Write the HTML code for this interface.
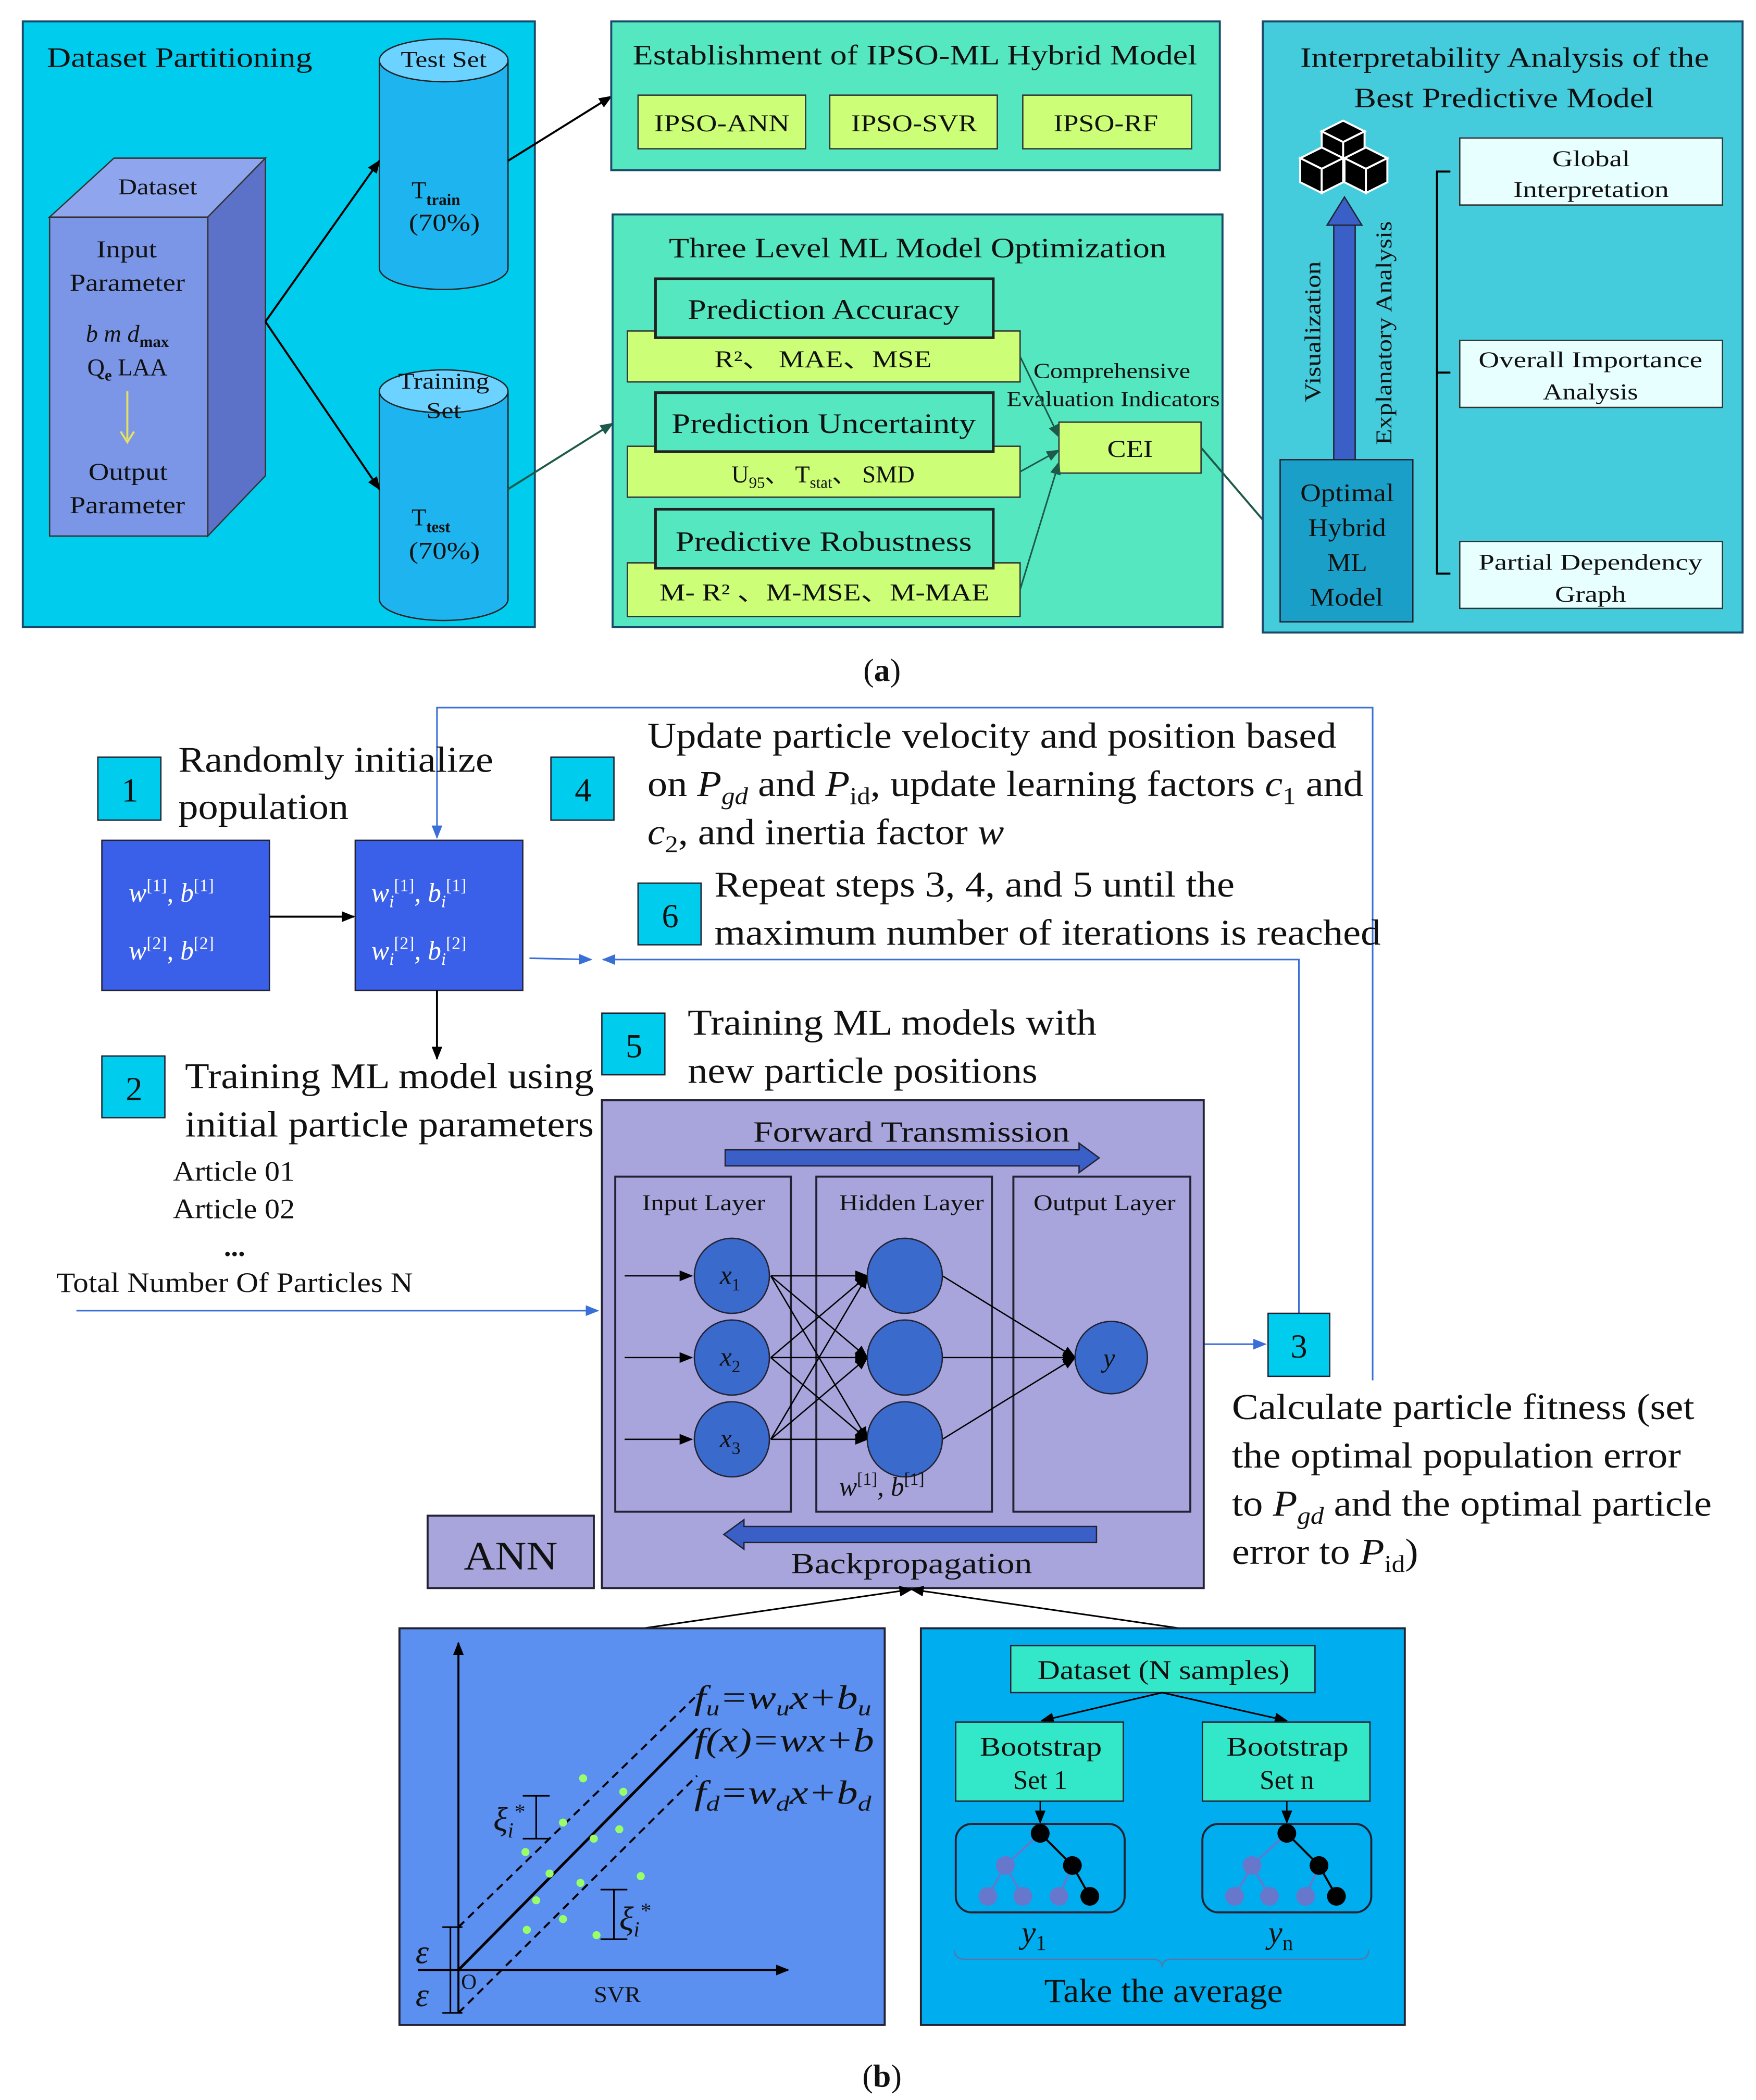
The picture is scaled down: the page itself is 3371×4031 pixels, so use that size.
<!DOCTYPE html>
<html><head><meta charset="utf-8"><style>
html,body{margin:0;padding:0;background:#fff;}
svg{display:block;}
text{font-family:"Liberation Serif","DejaVu Serif",serif;fill:#111;}
</style></head><body>
<svg width="3371" height="4031" viewBox="0 0 1310 1567" preserveAspectRatio="none" xmlns="http://www.w3.org/2000/svg">
<defs>
<marker id="ar" markerWidth="10" markerHeight="10" refX="9" refY="5" orient="auto" markerUnits="userSpaceOnUse"><path d="M0,1 L10,5 L0,9 z" fill="#000"/></marker>
<marker id="arg" markerWidth="10" markerHeight="10" refX="9" refY="5" orient="auto" markerUnits="userSpaceOnUse"><path d="M0,1 L10,5 L0,9 z" fill="#1E5A4A"/></marker>
<marker id="arb" markerWidth="10" markerHeight="10" refX="9" refY="5" orient="auto" markerUnits="userSpaceOnUse"><path d="M0,1 L10,5 L0,9 z" fill="#3A6FD8"/></marker>
</defs>
<rect width="1310" height="1567" fill="#fff"/>

<!-- Panel a box 1 -->
<rect x="17" y="16" width="382" height="452" fill="#00CCEE" stroke="#1a4a6a" stroke-width="1.5"/>
<text x="35" y="50" font-size="21" textLength="198" lengthAdjust="spacingAndGlyphs">Dataset Partitioning</text>
<polygon points="37,162 85,118 198,118 155,162" fill="#8FA6EE" stroke="#333"/>
<polygon points="155,162 198,118 198,355 155,400" fill="#5C72C8" stroke="#333"/>
<rect x="37" y="162" width="118" height="238" fill="#7B96E6" stroke="#333"/>
<text x="88" y="145" font-size="17" textLength="59" lengthAdjust="spacingAndGlyphs">Dataset</text>
<text x="72" y="192" font-size="18" textLength="45" lengthAdjust="spacingAndGlyphs">Input</text>
<text x="52" y="217" font-size="18" textLength="86" lengthAdjust="spacingAndGlyphs">Parameter</text>
<text x="95" y="255" font-size="18" text-anchor="middle" font-style="italic">b m d<tspan font-size="12" dy="4" font-style="normal" font-weight="bold">max</tspan></text>
<text x="95" y="280" font-size="18" text-anchor="middle">Q<tspan font-size="12" dy="4" font-weight="bold">e</tspan><tspan dy="-4"> LAA</tspan></text>
<line x1="95" y1="292" x2="95" y2="328" stroke="#E8E060" stroke-width="1.5"/>
<path d="M90,322 L95,330 L100,322" fill="none" stroke="#E8E060" stroke-width="1.5"/>
<text x="66" y="358" font-size="18" textLength="59" lengthAdjust="spacingAndGlyphs">Output</text>
<text x="52" y="383" font-size="18" textLength="86" lengthAdjust="spacingAndGlyphs">Parameter</text>
<!-- cylinders -->
<path d="M283,45 L283,200 A48,16 0 0 0 379,200 L379,45" fill="#1EB4F0" stroke="#222"/>
<ellipse cx="331" cy="45" rx="48" ry="16" fill="#6CD2FF" stroke="#222"/>
<text x="299" y="50" font-size="17" textLength="64" lengthAdjust="spacingAndGlyphs">Test Set</text>
<text x="307" y="148" font-size="18">T<tspan font-size="12" dy="5" font-weight="bold">train</tspan></text>
<text x="305" y="172" font-size="18" textLength="53" lengthAdjust="spacingAndGlyphs">(70%)</text>
<path d="M283,292 L283,447 A48,16 0 0 0 379,447 L379,292" fill="#1EB4F0" stroke="#222"/>
<ellipse cx="331" cy="292" rx="48" ry="16" fill="#6CD2FF" stroke="#222"/>
<text x="297" y="290" font-size="17" textLength="68" lengthAdjust="spacingAndGlyphs">Training</text>
<text x="318" y="312" font-size="17" textLength="26" lengthAdjust="spacingAndGlyphs">Set</text>
<text x="307" y="392" font-size="18">T<tspan font-size="12" dy="5" font-weight="bold">test</tspan></text>
<text x="305" y="417" font-size="18" textLength="53" lengthAdjust="spacingAndGlyphs">(70%)</text>
<line x1="198" y1="240" x2="283" y2="120" stroke="#000" stroke-width="1.5" marker-end="url(#ar)"/>
<line x1="198" y1="240" x2="283" y2="365" stroke="#000" stroke-width="1.5" marker-end="url(#ar)"/>
<line x1="379" y1="120" x2="456" y2="72" stroke="#000" stroke-width="1.5" marker-end="url(#ar)"/>
<line x1="379" y1="365" x2="457" y2="316" stroke="#1E5A4A" stroke-width="1.5" marker-end="url(#arg)"/>

<!-- box 2 -->
<rect x="456" y="16" width="454" height="111" fill="#55E8C0" stroke="#1a4a6a" stroke-width="1.5"/>
<text x="472" y="48" font-size="21" textLength="421" lengthAdjust="spacingAndGlyphs">Establishment of IPSO-ML Hybrid Model</text>
<rect x="476" y="71" width="125" height="40" fill="#CCFF77" stroke="#333"/>
<rect x="619" y="71" width="125" height="40" fill="#CCFF77" stroke="#333"/>
<rect x="763" y="71" width="126" height="40" fill="#CCFF77" stroke="#333"/>
<text x="488" y="98" font-size="18" textLength="101" lengthAdjust="spacingAndGlyphs">IPSO-ANN</text>
<text x="635" y="98" font-size="18" textLength="94" lengthAdjust="spacingAndGlyphs">IPSO-SVR</text>
<text x="786" y="98" font-size="18" textLength="78" lengthAdjust="spacingAndGlyphs">IPSO-RF</text>

<!-- box 3 -->
<rect x="457" y="160" width="455" height="308" fill="#55E8C0" stroke="#1a4a6a" stroke-width="1.5"/>
<text x="499" y="192" font-size="21" textLength="371" lengthAdjust="spacingAndGlyphs">Three Level ML Model Optimization</text>
<rect x="468" y="247" width="293" height="38" fill="#CCFF77" stroke="#333"/>
<rect x="489" y="208" width="252" height="44" fill="#55E8C0" stroke="#222" stroke-width="2"/>
<text x="513" y="238" font-size="21" textLength="203" lengthAdjust="spacingAndGlyphs">Prediction Accuracy</text>
<text x="533" y="274" font-size="18" textLength="162" lengthAdjust="spacingAndGlyphs">R²、 MAE、MSE</text>
<rect x="468" y="333" width="293" height="38" fill="#CCFF77" stroke="#333"/>
<rect x="489" y="293" width="252" height="44" fill="#55E8C0" stroke="#222" stroke-width="2"/>
<text x="501" y="323" font-size="21" textLength="227" lengthAdjust="spacingAndGlyphs">Prediction Uncertainty</text>
<text x="614" y="360" font-size="18" text-anchor="middle">U<tspan font-size="12" dy="4">95</tspan><tspan dy="-4">、 T</tspan><tspan font-size="12" dy="4">stat</tspan><tspan dy="-4">、 SMD</tspan></text>
<rect x="468" y="420" width="293" height="40" fill="#CCFF77" stroke="#333"/>
<rect x="489" y="380" width="252" height="44" fill="#55E8C0" stroke="#222" stroke-width="2"/>
<text x="504" y="411" font-size="21" textLength="221" lengthAdjust="spacingAndGlyphs">Predictive Robustness</text>
<text x="492" y="448" font-size="18" textLength="246" lengthAdjust="spacingAndGlyphs">M- R² 、M-MSE、M-MAE</text>
<rect x="790" y="315" width="106" height="38" fill="#CCFF77" stroke="#333"/>
<text x="826" y="341" font-size="18" textLength="34" lengthAdjust="spacingAndGlyphs">CEI</text>
<text x="771" y="282" font-size="16" textLength="117" lengthAdjust="spacingAndGlyphs">Comprehensive</text>
<text x="751" y="303" font-size="16" textLength="159" lengthAdjust="spacingAndGlyphs">Evaluation Indicators</text>
<line x1="761" y1="266" x2="790" y2="326" stroke="#1E5A4A" stroke-width="1.2" marker-end="url(#arg)"/>
<line x1="761" y1="352" x2="790" y2="336" stroke="#1E5A4A" stroke-width="1.2" marker-end="url(#arg)"/>
<line x1="761" y1="440" x2="790" y2="345" stroke="#1E5A4A" stroke-width="1.2" marker-end="url(#arg)"/>
<line x1="896" y1="334" x2="955" y2="403" stroke="#1E5A4A" stroke-width="1.5" marker-end="url(#arg)"/>

<!-- box 4 -->
<rect x="942" y="16" width="358" height="456" fill="#44CCDD" stroke="#1a4a6a" stroke-width="1.5"/>
<text x="970" y="50" font-size="21" textLength="305" lengthAdjust="spacingAndGlyphs">Interpretability Analysis of the</text>
<text x="1010" y="80" font-size="21" textLength="224" lengthAdjust="spacingAndGlyphs">Best Predictive Model</text>
<!-- cubes -->
<g stroke="#fff" stroke-width="1.5" fill="#000">
<polygon points="986,98 1002,90 1018,98 1002,106"/><polygon points="986,98 1002,106 1002,124 986,116"/><polygon points="1002,106 1018,98 1018,116 1002,124"/>
<polygon points="970,118 986,110 1002,118 986,126"/><polygon points="970,118 986,126 986,144 970,136"/><polygon points="986,126 1002,118 1002,136 986,144"/>
<polygon points="1003,118 1019,110 1035,118 1019,126"/><polygon points="1003,118 1019,126 1019,144 1003,136"/><polygon points="1019,126 1035,118 1035,136 1019,144"/>
</g>
<rect x="995" y="168" width="16" height="176" fill="#3A60C8" stroke="#223"/>
<polygon points="990,168 1003,147 1016,168" fill="#3A60C8" stroke="#223"/>
<text transform="translate(985,300) rotate(-90)" font-size="17" textLength="105" lengthAdjust="spacingAndGlyphs">Visualization</text>
<text transform="translate(1038,332) rotate(-90)" font-size="17" textLength="167" lengthAdjust="spacingAndGlyphs">Explanatory Analysis</text>
<rect x="955" y="343" width="99" height="121" fill="#1AA0C8" stroke="#223"/>
<text x="970" y="374" font-size="19" textLength="70" lengthAdjust="spacingAndGlyphs">Optimal</text>
<text x="976" y="400" font-size="19" textLength="58" lengthAdjust="spacingAndGlyphs">Hybrid</text>
<text x="990" y="426" font-size="19" textLength="30" lengthAdjust="spacingAndGlyphs">ML</text>
<text x="977" y="452" font-size="19" textLength="55" lengthAdjust="spacingAndGlyphs">Model</text>
<path d="M1082,128 L1072,128 L1072,428 L1082,428 M1072,278 L1082,278" fill="none" stroke="#000" stroke-width="1.5"/>
<rect x="1089" y="103" width="196" height="50" fill="#E8FFFF" stroke="#333"/>
<rect x="1089" y="254" width="196" height="50" fill="#E8FFFF" stroke="#333"/>
<rect x="1089" y="404" width="196" height="50" fill="#E8FFFF" stroke="#333"/>
<text x="1158" y="124" font-size="17" textLength="58" lengthAdjust="spacingAndGlyphs">Global</text>
<text x="1129" y="147" font-size="17" textLength="116" lengthAdjust="spacingAndGlyphs">Interpretation</text>
<text x="1103" y="274" font-size="17" textLength="167" lengthAdjust="spacingAndGlyphs">Overall Importance</text>
<text x="1151" y="298" font-size="17" textLength="71" lengthAdjust="spacingAndGlyphs">Analysis</text>
<text x="1103" y="425" font-size="17" textLength="167" lengthAdjust="spacingAndGlyphs">Partial Dependency</text>
<text x="1160" y="449" font-size="17" textLength="53" lengthAdjust="spacingAndGlyphs">Graph</text>

<text x="658" y="508" font-size="24" text-anchor="middle">(<tspan font-weight="bold">a</tspan>)</text>

<!-- Panel b -->
<polyline points="1024,1030 1024,528 326,528 326,625" fill="none" stroke="#3A6FD8" stroke-width="1.2" marker-end="url(#arb)"/>
<polyline points="969,980 969,716 450,716" fill="none" stroke="#3A6FD8" stroke-width="1.2" marker-end="url(#arb)"/>
<line x1="395" y1="715" x2="441" y2="716" stroke="#3A6FD8" stroke-width="1.2" marker-end="url(#arb)"/>
<line x1="57" y1="978" x2="446" y2="978" stroke="#3A6FD8" stroke-width="1.2" marker-end="url(#arb)"/>
<line x1="898" y1="1003" x2="944" y2="1003" stroke="#3A6FD8" stroke-width="1.2" marker-end="url(#arb)"/>

<g font-size="25">
<rect x="73" y="565" width="47" height="47" fill="#00CCEE" stroke="#223"/><text x="97" y="598" text-anchor="middle">1</text>
<rect x="411" y="565" width="47" height="47" fill="#00CCEE" stroke="#223"/><text x="435" y="598" text-anchor="middle">4</text>
<rect x="476" y="659" width="47" height="46" fill="#00CCEE" stroke="#223"/><text x="500" y="692" text-anchor="middle">6</text>
<rect x="449" y="756" width="47" height="46" fill="#00CCEE" stroke="#223"/><text x="473" y="789" text-anchor="middle">5</text>
<rect x="76" y="788" width="47" height="46" fill="#00CCEE" stroke="#223"/><text x="100" y="821" text-anchor="middle">2</text>
<rect x="946" y="980" width="46" height="47" fill="#00CCEE" stroke="#223"/><text x="969" y="1013" text-anchor="middle">3</text>
</g>
<g font-size="27">
<text x="133" y="576" textLength="235" lengthAdjust="spacingAndGlyphs">Randomly initialize</text>
<text x="133" y="611" textLength="127" lengthAdjust="spacingAndGlyphs">population</text>
<text x="483" y="558" textLength="514" lengthAdjust="spacingAndGlyphs">Update particle velocity and position based</text>
<text x="483" y="594" textLength="534" lengthAdjust="spacingAndGlyphs">on <tspan font-style="italic">P</tspan><tspan font-size="18" dy="6" font-style="italic">gd</tspan><tspan dy="-6"> and </tspan><tspan font-style="italic">P</tspan><tspan font-size="18" dy="6">id</tspan><tspan dy="-6">, update learning factors </tspan><tspan font-style="italic">c</tspan><tspan font-size="18" dy="6">1</tspan><tspan dy="-6"> and</tspan></text>
<text x="483" y="630" textLength="266" lengthAdjust="spacingAndGlyphs"><tspan font-style="italic">c</tspan><tspan font-size="18" dy="6">2</tspan><tspan dy="-6">, and inertia factor </tspan><tspan font-style="italic">w</tspan></text>
<text x="533" y="669" textLength="388" lengthAdjust="spacingAndGlyphs">Repeat steps 3, 4, and 5 until the</text>
<text x="533" y="705" textLength="497" lengthAdjust="spacingAndGlyphs">maximum number of iterations is reached</text>
<text x="513" y="772" textLength="305" lengthAdjust="spacingAndGlyphs">Training ML models with</text>
<text x="513" y="808" textLength="261" lengthAdjust="spacingAndGlyphs">new particle positions</text>
<text x="138" y="812" textLength="305" lengthAdjust="spacingAndGlyphs">Training ML model using</text>
<text x="138" y="848" textLength="305" lengthAdjust="spacingAndGlyphs">initial particle parameters</text>
<text x="919" y="1059" textLength="345" lengthAdjust="spacingAndGlyphs">Calculate particle fitness (set</text>
<text x="919" y="1095" textLength="335" lengthAdjust="spacingAndGlyphs">the optimal population error</text>
<text x="919" y="1131" textLength="358" lengthAdjust="spacingAndGlyphs">to <tspan font-style="italic">P</tspan><tspan font-size="18" dy="6" font-style="italic">gd</tspan><tspan dy="-6"> and the optimal particle</tspan></text>
<text x="919" y="1167" textLength="139" lengthAdjust="spacingAndGlyphs">error to <tspan font-style="italic">P</tspan><tspan font-size="18" dy="6">id</tspan><tspan dy="-6">)</tspan></text>
</g>
<g font-size="21">
<text x="129" y="881" textLength="91" lengthAdjust="spacingAndGlyphs">Article 01</text>
<text x="129" y="909" textLength="91" lengthAdjust="spacingAndGlyphs">Article 02</text>
<text x="175" y="937" font-weight="bold" text-anchor="middle">...</text>
<text x="42" y="964" textLength="266" lengthAdjust="spacingAndGlyphs">Total Number Of Particles N</text>
</g>

<rect x="76" y="627" width="125" height="112" fill="#3A5FE8" stroke="#223"/>
<rect x="265" y="627" width="125" height="112" fill="#3A5FE8" stroke="#223"/>
<g font-size="20" font-style="italic">
<text x="96" y="673" style="fill:#fff">w<tspan font-size="13" dy="-8" font-style="normal">[1]</tspan><tspan dy="8">,   b</tspan><tspan font-size="13" dy="-8" font-style="normal">[1]</tspan></text>
<text x="96" y="716" style="fill:#fff">w<tspan font-size="13" dy="-8" font-style="normal">[2]</tspan><tspan dy="8">,   b</tspan><tspan font-size="13" dy="-8" font-style="normal">[2]</tspan></text>
<text x="277" y="673" style="fill:#fff">w<tspan font-size="13" dy="4">i</tspan><tspan font-size="13" dy="-12" font-style="normal">[1]</tspan><tspan dy="8">,   b</tspan><tspan font-size="13" dy="4">i</tspan><tspan font-size="13" dy="-12" font-style="normal">[1]</tspan></text>
<text x="277" y="716" style="fill:#fff">w<tspan font-size="13" dy="4">i</tspan><tspan font-size="13" dy="-12" font-style="normal">[2]</tspan><tspan dy="8">,   b</tspan><tspan font-size="13" dy="4">i</tspan><tspan font-size="13" dy="-12" font-style="normal">[2]</tspan></text>
</g>
<line x1="201" y1="684" x2="264" y2="684" stroke="#000" stroke-width="1.5" marker-end="url(#ar)"/>
<line x1="326" y1="739" x2="326" y2="790" stroke="#000" stroke-width="1.5" marker-end="url(#ar)"/>

<!-- ANN -->
<rect x="449" y="821" width="449" height="364" fill="#A8A4DC" stroke="#223" stroke-width="1.5"/>
<text x="562" y="852" font-size="22" textLength="236" lengthAdjust="spacingAndGlyphs">Forward Transmission</text>
<polygon points="541,858 805,858 805,853 820,864 805,875 805,870 541,870" fill="#3A60C8" stroke="#223"/>
<rect x="459" y="878" width="131" height="250" fill="#A8A4DC" stroke="#223" stroke-width="1.5"/>
<rect x="609" y="878" width="131" height="250" fill="#A8A4DC" stroke="#223" stroke-width="1.5"/>
<rect x="756" y="878" width="132" height="250" fill="#A8A4DC" stroke="#223" stroke-width="1.5"/>
<text x="479" y="903" font-size="17" textLength="92" lengthAdjust="spacingAndGlyphs">Input Layer</text>
<text x="626" y="903" font-size="17" textLength="108" lengthAdjust="spacingAndGlyphs">Hidden Layer</text>
<text x="771" y="903" font-size="17" textLength="106" lengthAdjust="spacingAndGlyphs">Output Layer</text>
<g stroke="#000" stroke-width="1">
<line x1="466" y1="952" x2="516" y2="952" marker-end="url(#ar)"/>
<line x1="466" y1="1013" x2="516" y2="1013" marker-end="url(#ar)"/>
<line x1="466" y1="1074" x2="516" y2="1074" marker-end="url(#ar)"/>
<line x1="575" y1="952" x2="647" y2="952" marker-end="url(#ar)"/>
<line x1="575" y1="952" x2="647" y2="1013" marker-end="url(#ar)"/>
<line x1="575" y1="952" x2="647" y2="1074" marker-end="url(#ar)"/>
<line x1="575" y1="1013" x2="647" y2="952" marker-end="url(#ar)"/>
<line x1="575" y1="1013" x2="647" y2="1013" marker-end="url(#ar)"/>
<line x1="575" y1="1013" x2="647" y2="1074" marker-end="url(#ar)"/>
<line x1="575" y1="1074" x2="647" y2="952" marker-end="url(#ar)"/>
<line x1="575" y1="1074" x2="647" y2="1013" marker-end="url(#ar)"/>
<line x1="575" y1="1074" x2="647" y2="1074" marker-end="url(#ar)"/>
<line x1="703" y1="952" x2="802" y2="1013" marker-end="url(#ar)"/>
<line x1="703" y1="1013" x2="802" y2="1013" marker-end="url(#ar)"/>
<line x1="703" y1="1074" x2="802" y2="1013" marker-end="url(#ar)"/>
</g>
<g fill="#3A6ACC" stroke="#223">
<circle cx="546" cy="952" r="28"/><circle cx="546" cy="1013" r="28"/><circle cx="546" cy="1074" r="28"/>
<circle cx="675" cy="952" r="28"/><circle cx="675" cy="1013" r="28"/><circle cx="675" cy="1074" r="28"/>
<circle cx="829" cy="1013" r="27"/>
</g>
<g font-size="20" font-style="italic">
<text x="537" y="958">x<tspan font-size="13" dy="5" font-style="normal">1</tspan></text>
<text x="537" y="1019">x<tspan font-size="13" dy="5" font-style="normal">2</tspan></text>
<text x="537" y="1080">x<tspan font-size="13" dy="5" font-style="normal">3</tspan></text>
<text x="823" y="1020">y</text>
<text x="626" y="1116">w<tspan font-size="13" dy="-8" font-style="normal">[1]</tspan><tspan dy="8">,    b</tspan><tspan font-size="13" dy="-8" font-style="normal">[1]</tspan></text>
</g>
<polygon points="818,1139 555,1139 555,1134 540,1145 555,1156 555,1151 818,1151" fill="#3A60C8" stroke="#223"/>
<text x="590" y="1174" font-size="22" textLength="180" lengthAdjust="spacingAndGlyphs">Backpropagation</text>
<rect x="319" y="1131" width="124" height="54" fill="#A8A4DC" stroke="#223" stroke-width="1.5"/>
<text x="346" y="1171" font-size="30" textLength="70" lengthAdjust="spacingAndGlyphs">ANN</text>

<line x1="480" y1="1215" x2="680" y2="1186" stroke="#000" stroke-width="1.2" marker-end="url(#ar)"/>
<line x1="880" y1="1215" x2="680" y2="1186" stroke="#000" stroke-width="1.2" marker-end="url(#ar)"/>

<!-- SVR -->
<rect x="298" y="1215" width="362" height="296" fill="#5B8FF0" stroke="#223" stroke-width="1.5"/>
<line x1="342" y1="1502" x2="342" y2="1226" stroke="#000" stroke-width="1.5" marker-end="url(#ar)"/>
<line x1="312" y1="1470" x2="588" y2="1470" stroke="#000" stroke-width="1.5" marker-end="url(#ar)"/>
<line x1="342" y1="1470" x2="520" y2="1290" stroke="#000" stroke-width="2"/>
<line x1="342" y1="1438" x2="520" y2="1265" stroke="#000" stroke-width="1.5" stroke-dasharray="6,4"/>
<line x1="342" y1="1502" x2="520" y2="1325" stroke="#000" stroke-width="1.5" stroke-dasharray="6,4"/>
<g fill="#99FF66">
<circle cx="435" cy="1327" r="3"/><circle cx="465" cy="1337" r="3"/><circle cx="420" cy="1360" r="3"/><circle cx="443" cy="1372" r="3"/><circle cx="462" cy="1365" r="3"/><circle cx="392" cy="1382" r="3"/><circle cx="410" cy="1398" r="3"/><circle cx="433" cy="1405" r="3"/><circle cx="478" cy="1400" r="3"/><circle cx="400" cy="1418" r="3"/><circle cx="393" cy="1440" r="3"/><circle cx="420" cy="1432" r="3"/><circle cx="445" cy="1444" r="3"/>
</g>
<g stroke="#000" stroke-width="1.2">
<line x1="390" y1="1340" x2="410" y2="1340"/><line x1="390" y1="1372" x2="410" y2="1372"/><line x1="400" y1="1340" x2="400" y2="1372"/>
<line x1="448" y1="1410" x2="468" y2="1410"/><line x1="448" y1="1447" x2="468" y2="1447"/><line x1="458" y1="1410" x2="458" y2="1447"/>
<line x1="330" y1="1438" x2="345" y2="1438"/><line x1="330" y1="1502" x2="345" y2="1502"/><line x1="336" y1="1438" x2="336" y2="1502"/>
</g>
<g font-size="25" font-style="italic">
<text x="518" y="1275" textLength="132" lengthAdjust="spacingAndGlyphs">f<tspan font-size="16" dy="5">u</tspan><tspan dy="-5">=w</tspan><tspan font-size="16" dy="5">u</tspan><tspan dy="-5">x+b</tspan><tspan font-size="16" dy="5">u</tspan></text>
<text x="518" y="1307" textLength="134" lengthAdjust="spacingAndGlyphs">f(x)=wx+b</text>
<text x="518" y="1346" textLength="132" lengthAdjust="spacingAndGlyphs">f<tspan font-size="16" dy="5">d</tspan><tspan dy="-5">=w</tspan><tspan font-size="16" dy="5">d</tspan><tspan dy="-5">x+b</tspan><tspan font-size="16" dy="5">d</tspan></text>
<text x="368" y="1366">ξ<tspan font-size="16" dy="5">i</tspan><tspan font-size="16" dy="-14">*</tspan></text>
<text x="462" y="1440">ξ<tspan font-size="16" dy="5">i</tspan><tspan font-size="16" dy="-14">*</tspan></text>
<text x="310" y="1465">ε</text>
<text x="310" y="1497">ε</text>
</g>
<text x="344" y="1484" font-size="16">O</text>
<text x="443" y="1494" font-size="17" textLength="35" lengthAdjust="spacingAndGlyphs">SVR</text>

<!-- RF -->
<rect x="687" y="1215" width="361" height="296" fill="#00AEEF" stroke="#223" stroke-width="1.5"/>
<rect x="754" y="1228" width="227" height="35" fill="#33E8C8" stroke="#223"/>
<text x="774" y="1253" font-size="20" textLength="188" lengthAdjust="spacingAndGlyphs">Dataset (N samples)</text>
<line x1="867" y1="1263" x2="777" y2="1284" stroke="#000" stroke-width="1.2" marker-end="url(#ar)"/>
<line x1="867" y1="1263" x2="960" y2="1284" stroke="#000" stroke-width="1.2" marker-end="url(#ar)"/>
<rect x="713" y="1285" width="125" height="59" fill="#33E8C8" stroke="#223"/>
<rect x="897" y="1285" width="125" height="59" fill="#33E8C8" stroke="#223"/>
<text x="731" y="1310" font-size="20" textLength="91" lengthAdjust="spacingAndGlyphs">Bootstrap</text>
<text x="776" y="1335" font-size="20" text-anchor="middle">Set 1</text>
<text x="915" y="1310" font-size="20" textLength="91" lengthAdjust="spacingAndGlyphs">Bootstrap</text>
<text x="960" y="1335" font-size="20" text-anchor="middle">Set n</text>
<g>
<rect x="713" y="1361" width="126" height="66" rx="12" fill="#00AEEF" stroke="#223" stroke-width="1.5"/>
<line x1="776" y1="1344" x2="776" y2="1360" stroke="#000" marker-end="url(#ar)"/>
<g stroke="#6677CC" stroke-width="1.5"><line x1="776" y1="1368" x2="750" y2="1392"/><line x1="750" y1="1392" x2="737" y2="1415"/><line x1="750" y1="1392" x2="763" y2="1415"/><line x1="800" y1="1392" x2="790" y2="1415"/></g>
<g stroke="#000" stroke-width="1.5"><line x1="776" y1="1368" x2="800" y2="1392"/><line x1="800" y1="1392" x2="813" y2="1415"/></g>
<circle cx="776" cy="1368" r="7" fill="#000"/><circle cx="800" cy="1392" r="7" fill="#000"/><circle cx="813" cy="1415" r="7" fill="#000"/>
<g fill="#6677CC"><circle cx="750" cy="1392" r="7"/><circle cx="737" cy="1415" r="7"/><circle cx="763" cy="1415" r="7"/><circle cx="790" cy="1415" r="7"/></g>
</g>
<g>
<rect x="897" y="1361" width="126" height="66" rx="12" fill="#00AEEF" stroke="#223" stroke-width="1.5"/>
<line x1="960" y1="1344" x2="960" y2="1360" stroke="#000" marker-end="url(#ar)"/>
<g stroke="#6677CC" stroke-width="1.5"><line x1="960" y1="1368" x2="934" y2="1392"/><line x1="934" y1="1392" x2="921" y2="1415"/><line x1="934" y1="1392" x2="947" y2="1415"/><line x1="984" y1="1392" x2="974" y2="1415"/></g>
<g stroke="#000" stroke-width="1.5"><line x1="960" y1="1368" x2="984" y2="1392"/><line x1="984" y1="1392" x2="997" y2="1415"/></g>
<circle cx="960" cy="1368" r="7" fill="#000"/><circle cx="984" cy="1392" r="7" fill="#000"/><circle cx="997" cy="1415" r="7" fill="#000"/>
<g fill="#6677CC"><circle cx="934" cy="1392" r="7"/><circle cx="921" cy="1415" r="7"/><circle cx="947" cy="1415" r="7"/><circle cx="974" cy="1415" r="7"/></g>
</g>
<text x="762" y="1450" font-size="24" font-style="italic">y<tspan font-size="16" dy="5" font-style="normal">1</tspan></text>
<text x="946" y="1450" font-size="24" font-style="italic">y<tspan font-size="16" dy="5" font-style="normal">n</tspan></text>
<path d="M712,1455 Q712,1462 720,1462 L860,1462 Q867,1462 867,1468 Q867,1462 874,1462 L1014,1462 Q1021,1462 1021,1455" fill="none" stroke="#5577AA" stroke-width="1"/>
<text x="779" y="1494" font-size="25" textLength="178" lengthAdjust="spacingAndGlyphs">Take the average</text>

<text x="658" y="1557" font-size="24" text-anchor="middle">(<tspan font-weight="bold">b</tspan>)</text>
</svg>
</body></html>
